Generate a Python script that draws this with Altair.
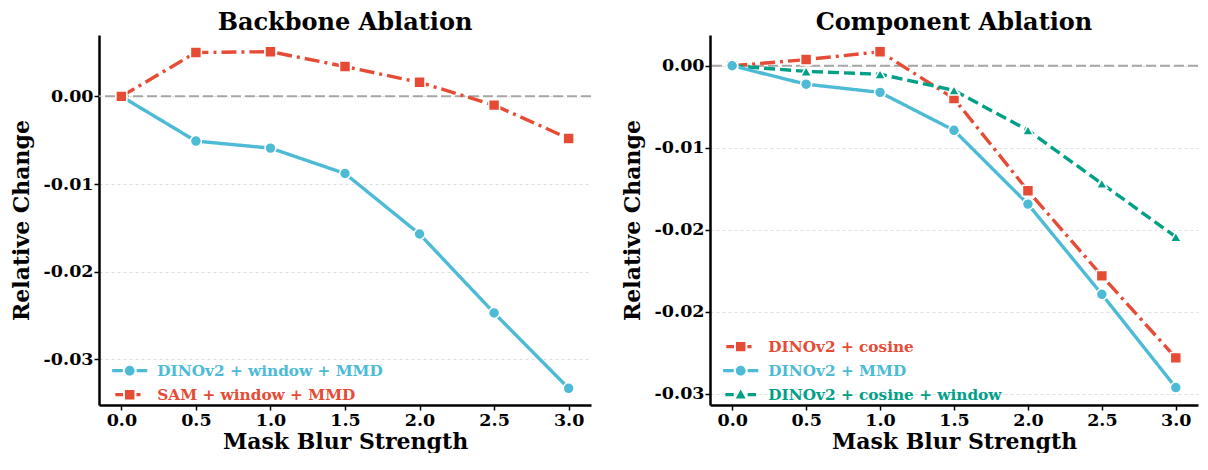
import altair as alt
import pandas as pd

# ---------------- data ----------------
x_vals = [0.0, 0.5, 1.0, 1.5, 2.0, 2.5, 3.0]

left_series = ["DINOv2 + window + MMD", "SAM + window + MMD"]
left_dino = [0.0, -0.0051, -0.0059, -0.0088, -0.0157, -0.0247, -0.0333]
left_sam = [0.0, 0.0050, 0.0051, 0.0034, 0.0016, -0.0010, -0.0048]

right_series = ["DINOv2 + cosine", "DINOv2 + MMD", "DINOv2 + cosine + window"]
right_cos = [0.0, 0.0006, 0.00137, -0.0032, -0.0122, -0.0205, -0.0285]
right_mmd = [0.0, -0.0018, -0.0026, -0.0063, -0.0135, -0.0223, -0.0314]
right_cw = [0.0, -0.00055, -0.00083, -0.0024, -0.0063, -0.0115, -0.0167]

left_ticks = [0.0, -0.01, -0.02, -0.03]
right_ticks = [0.0, -0.008, -0.016, -0.024, -0.032]
x_ticks = [0.0, 0.5, 1.0, 1.5, 2.0, 2.5, 3.0]

BLUE = "#4DBBD5"
RED = "#E64B35"
GREEN = "#00A087"
FONT = "DejaVu Serif"

SOLID = [1, 0]
DASHDOT = [15, 5, 3, 5]
DASHED = [11, 5]


# ------------- legend glyphs (line + marker), unit = symbol radius -------------
def rect(x0, x1, h=0.36):
    return f"M{x0},{-h}L{x1},{-h}L{x1},{h}L{x0},{h}Z"


def circle(cx=2.9, r=1.08):
    return f"M{cx + r},0A{r},{r} 0 1,1 {cx - r},0A{r},{r} 0 1,1 {cx + r},0Z"


def square(cx=2.9, s=1.05):
    return f"M{cx - s},{-s}L{cx + s},{-s}L{cx + s},{s}L{cx - s},{s}Z"


def triangle(cx=2.9):
    return f"M{cx},-1.15L{cx + 1.1},0.85L{cx - 1.1},0.85Z"


GLYPH = {
    "solid_circle": rect(-1, 1.35) + circle() + rect(4.45, 6.8),
    "dashdot_square": rect(-0.3, 1.4) + square() + rect(4.4, 5.3),
    "dashed_triangle": rect(-0.5, 1.35) + triangle() + rect(4.45, 6.3),
}


def ternary(names, values):
    expr = f"'{values[-1]}'"
    for n, v in reversed(list(zip(names[:-1], values[:-1]))):
        expr = f"datum.value == '{n}' ? '{v}' : " + expr
    return expr


def long_df(names, values, order, shapes):
    rows = []
    for k, name in enumerate(order):
        i = names.index(name)
        for x, y in zip(x_vals, values[i]):
            rows.append({"x": x, "y": y, "series": name, "ord": k, "mk": shapes[i]})
    return pd.DataFrame(rows)


def panel(title, names, values, order, colors, dashes, shapes, glyphs,
          ydom, yticks, legend_x, legend_y, width):
    df = long_df(names, values, order, shapes)
    xs = alt.Scale(domain=[-0.15, 3.15], nice=False, zero=False)
    ys = alt.Scale(domain=ydom, nice=False, zero=False)

    xaxis = alt.Axis(values=x_ticks, format=".1f", grid=False)
    yaxis = alt.Axis(values=yticks,
                     labelExpr="replace(format(datum.value, '.2f'), '\u2212', '-')",
                     grid=True, gridColor="#d6d6d6", gridDash=[3, 3], gridWidth=0.8)

    def X():
        return alt.X("x:Q", scale=xs, title="Mask Blur Strength", axis=xaxis)

    def Y():
        return alt.Y("y:Q", scale=ys, title="Relative Change", axis=yaxis)

    zero = alt.Chart(pd.DataFrame({"y": [0.0]})).mark_rule(
        color="#a6a6a6", strokeWidth=2, strokeDash=[10, 4]
    ).encode(y=Y())

    layers = [zero]
    for name in order:
        i = names.index(name)
        layers.append(
            alt.Chart(df).transform_filter(alt.datum.series == name)
            .mark_line(strokeWidth=3.4, color=colors[i], strokeDash=dashes[i])
            .encode(x=X(), y=Y(), order="x:Q")
        )

    legend = alt.Legend(
        title=None, orient="none", legendX=legend_x, legendY=legend_y,
        symbolType={"expr": ternary(names, glyphs)},
        symbolSize=81, symbolStrokeWidth=0, symbolOpacity=1,
        labelColor={"expr": ternary(names, colors)},
        labelFont=FONT, labelFontWeight="bold", labelFontSize=15.3,
        labelOffset=33, rowPadding=8, labelLimit=400, padding=0,
    )

    points = alt.Chart(df).mark_point(filled=True, opacity=1, stroke="white",
                                      strokeWidth=1.5, size=120).encode(
        x=X(), y=Y(),
        color=alt.Color("series:N", scale=alt.Scale(domain=names, range=colors), legend=legend),
        shape=alt.Shape("mk:N", scale=None),
        order="ord:Q",
    )
    layers.append(points)

    return alt.layer(*layers).properties(
        width=width, height=370,
        title=alt.TitleParams(title, font=FONT, fontSize=24, fontWeight="bold",
                              anchor="middle", color="black", offset=0),
    )


left = panel(
    "Backbone Ablation", left_series, [left_dino, left_sam],
    left_series, [BLUE, RED], [SOLID, DASHDOT], ["circle", "square"],
    [GLYPH["solid_circle"], GLYPH["dashdot_square"]],
    [-0.0352, 0.0070], left_ticks, 10, 328, 492,
)

right = panel(
    "Component Ablation", right_series, [right_cos, right_mmd, right_cw],
    ["DINOv2 + cosine", "DINOv2 + cosine + window", "DINOv2 + MMD"],
    [RED, BLUE, GREEN], [DASHDOT, SOLID, DASHED], ["square", "circle", "triangle-up"],
    [GLYPH["dashdot_square"], GLYPH["solid_circle"], GLYPH["dashed_triangle"]],
    [-0.0331, 0.0030], right_ticks, 10, 304, 488,
)

chart = alt.hconcat(left, right, spacing=29).resolve_scale(
    color="independent", x="independent", y="independent",
).properties(
    padding={"left": 2, "top": 3, "right": 0, "bottom": 0}
).configure_view(stroke=None).configure_axis(
    domainColor="black", domainWidth=2.5, tickColor="black", tickWidth=1.5, tickSize=5,
    labelFont=FONT, labelFontWeight="bold", labelFontSize=17.5, labelColor="black",
    titleFont=FONT, titleFontWeight="bold", titleFontSize=22, titleColor="black",
    labelPadding=1, titlePadding=10,
).configure_axisX(titlePadding=3)

chart.save("out.html", embed_options={"renderer": "svg", "actions": False})
